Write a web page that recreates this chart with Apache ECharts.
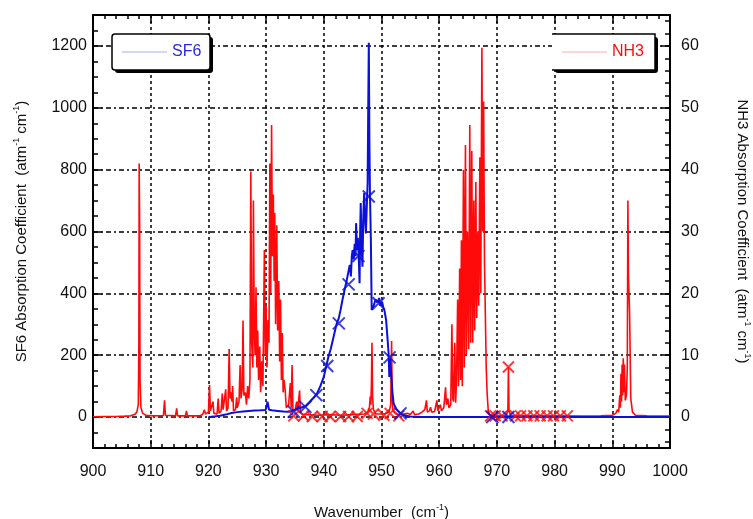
<!DOCTYPE html>
<html>
<head>
<meta charset="utf-8">
<script src="https://cdn.jsdelivr.net/npm/echarts@6/dist/echarts.min.js"></script>
<style>
  html, body { margin: 0; padding: 0; background: #fff; }
  #chart { width: 753px; height: 519px; }
</style>
</head>
<body>
<div id="chart"></div>
<script>
// Wavenumber axis (cm^-1)
const wnMin = 900, wnMax = 1000;
const wnTicks = [900, 910, 920, 930, 940, 950, 960, 970, 980, 990, 1000];

// Left axis: SF6 absorption coefficient
const sf6Ticks = [0, 200, 400, 600, 800, 1000, 1200];
// Right axis: NH3 absorption coefficient
const nh3Ticks = [0, 10, 20, 30, 40, 50, 60];

// NH3 high-resolution spectrum (wavenumber, coefficient)
const nh3Wn = [
  900.0, 902.0, 904.0, 905.5, 906.5, 907.2, 907.6, 907.85, 907.95, 908.0, 908.08, 908.15, 908.3, 908.6, 909.2,
  910.5, 912.2, 912.4, 912.55, 914.3, 914.5, 914.65, 916.0, 916.2, 916.35, 918.5, 919.0, 919.3, 919.5,
  920.0, 920.2, 920.35, 920.6, 920.8, 920.95, 921.5, 921.7, 921.85, 922.2, 922.4, 922.55, 922.8, 923.0, 923.15,
  923.4, 923.6, 923.75, 923.9, 924.1, 924.2, 924.35, 924.7, 924.9, 925.0, 925.3, 925.5, 925.65, 925.85, 926.0,
  926.15, 926.4, 926.6, 926.8, 927.0, 927.2, 927.35, 927.5, 927.7, 927.8, 927.95, 928.1, 928.25, 928.4, 928.55,
  928.7, 928.9, 929.05, 929.25, 929.45, 929.7, 929.85, 930.0, 930.15, 930.35, 930.5, 930.65, 930.8, 930.95,
  931.1, 931.25, 931.4, 931.5, 931.65, 931.85, 932.0, 932.2, 932.35, 932.5, 932.65, 932.8, 932.95, 933.1, 933.3,
  933.5, 933.9, 934.2, 934.35, 934.5, 934.65, 935.0, 935.3, 935.45, 935.8, 935.95, 936.3, 937.0, 939.0, 941.0,
  943.0, 945.0, 947.0, 947.6, 947.9, 948.05, 948.15, 948.25, 948.35, 948.45, 948.6, 949.0, 950.5, 951.3, 951.6,
  951.75, 951.85, 952.0, 952.5, 953.5, 954.5, 955.0, 955.5, 955.7, 956.5, 957.0, 957.5, 957.8, 957.95, 958.3,
  958.5, 958.7, 959.2, 959.6, 959.75, 960.0, 960.2, 960.4, 960.8, 961.1, 961.25, 961.5, 961.7, 962.0, 962.2,
  962.35, 962.5, 962.7, 962.85, 963.0, 963.2, 963.35, 963.55, 963.7, 963.85, 964.0, 964.2, 964.35, 964.55, 964.7,
  964.9, 965.1, 965.3, 965.45, 965.65, 965.8, 966.0, 966.15, 966.35, 966.5, 966.7, 966.85, 967.05, 967.2, 967.4,
  967.55, 967.7, 967.85, 968.0, 968.15, 968.3, 968.5, 968.8, 971.6, 971.9, 972.0, 972.1, 972.4, 980.0, 985.0,
  988.0, 990.0, 990.6, 990.9, 991.1, 991.3, 991.4, 991.5, 991.6, 991.7, 991.8, 991.9, 992.0, 992.1, 992.25,
  992.45, 992.6, 992.7, 992.8, 992.9, 993.0, 993.1, 993.2, 993.5, 994.0, 996.0, 1000.0
];
const nh3Abs = [
  0.05, 0.1, 0.1, 0.15, 0.2, 0.4, 0.8, 2.0, 12, 41, 32, 6, 1.6, 0.6, 0.3,
  0.2, 0.25, 2.7, 0.3, 0.2, 1.4, 0.2, 0.2, 1.0, 0.2, 0.2, 0.4, 1.2, 0.5,
  0.8, 5.2, 1.0, 0.8, 2.5, 0.6, 0.5, 3.0, 0.6, 1.0, 3.8, 1.2, 1.5, 4.5, 1.0,
  1.5, 11.0, 3.0, 4.0, 2.5, 5.0, 1.0, 1.2, 3.2, 1.5, 2.5, 8.4, 3.0, 4.5, 15.6,
  3.5, 4.0, 2.0, 5.0, 3.0, 6.0, 39.7, 12, 8, 35, 14, 10, 21, 8, 14,
  6, 11.4, 4, 9, 5, 27, 10, 18, 8, 15.7, 12, 41, 20, 47.2,
  26, 36, 22, 33, 15, 31, 14, 22, 9, 19, 6, 13.6, 4, 6, 4.4,
  1.5, 2.0, 5.5, 1.5, 8.4, 1.2, 1.0, 2.5, 1.0, 4.3, 0.8, 0.5, 0.4, 0.3, 0.4,
  0.3, 0.4, 0.5, 0.8, 1.5, 3.3, 2.0, 5, 12, 3.3, 1.2, 0.5, 0.5, 0.8, 2.0,
  12.3, 3.0, 1.0, 0.5, 0.4, 0.6, 0.4, 1.0, 0.4, 0.5, 0.8, 1.2, 2.7, 0.8, 1.0,
  1.6, 0.8, 0.9, 2.7, 1.0, 1.2, 2.0, 1.0, 1.5, 4.8, 2.0, 3.0, 1.5, 2.0, 15,
  3.0, 2.5, 12, 2.3, 6, 19, 5, 24, 6, 28.6, 5, 40, 8, 44, 10,
  30, 11, 47.2, 12, 43, 12, 35, 14, 38, 16, 30, 18, 42, 20, 59.7,
  30, 51, 25, 25, 8, 4, 1, 0.3, 0.2, 1.0, 8.1, 1.0, 0.2, 0.2, 0.15,
  0.2, 0.3, 0.6, 1.2, 0.8, 3.5, 1.5, 7.0, 2.5, 8.5, 3.5, 9.5, 4, 8.5, 2.7,
  3.5, 8, 35, 22.7, 22.7, 16.8, 16.8, 3, 0.8, 0.3, 0.2, 0.15
];

// SF6 band (wavenumber, coefficient)
const sf6Wn = [
  920.0, 921.0, 922.0, 923.0, 924.0, 925.0, 926.0, 927.0, 928.0, 929.0, 929.9, 930.1, 930.25, 930.4, 930.5,
  931.0, 932.0, 933.0, 933.8, 934.5, 935.2, 936.0, 936.8, 937.5, 938.2, 938.8, 939.4, 940.0, 940.5, 940.8,
  941.2, 941.7, 942.2, 942.6, 942.9, 943.3, 943.6, 944.0, 944.5, 944.7, 944.85, 945.0, 945.2, 945.35, 945.5,
  945.6, 945.75, 945.9, 946.05, 946.2, 946.3, 946.4, 946.55, 946.7, 946.85, 947.0, 947.15, 947.3, 947.45, 947.6,
  947.7, 947.8, 947.9, 948.0, 948.15, 948.3, 948.5, 948.6, 948.8, 949.0, 949.3, 949.6, 949.8, 950.1, 950.3,
  950.5, 950.8, 951.1, 951.25, 951.35, 951.45, 951.6, 951.9, 952.1, 952.6, 953.3, 954.0, 955.0, 956.0, 1000.0
];
const sf6Abs = [
  0, 2, 4, 8, 13, 16, 18, 20, 21, 22, 23, 35, 50, 45, 24,
  22, 20, 18, 17, 20, 25, 30, 35, 48, 62, 75, 100, 130, 170, 195,
  220, 260, 300, 320, 346, 385, 411, 445, 492, 455, 520, 540, 510, 560, 520,
  627, 540, 580, 520, 433, 600, 692, 560, 486, 650, 724, 640, 594, 680, 760,
  1000, 1210, 900, 720, 583, 346, 340, 357, 370, 380, 370, 385, 360, 373, 355,
  346, 314, 240, 200, 130, 190, 160, 80, 44, 25, 12, 5, 2, 0, 0
];

// Coarse-resolution points marked with crosses
const sf6PtWn  = [934.8, 936.8, 938.7, 940.6, 942.6, 944.3, 946.0, 947.8, 949.5, 951.4, 953.3, 969.2, 972.0];
const sf6PtAbs = [17, 33, 71, 165, 303, 429, 521, 713, 368, 193, 12, 0, 0];
const nh3PtWn  = [934.8, 936.5, 938.0, 939.7, 941.1, 942.9, 944.3, 945.8, 947.5, 948.6, 950.4, 951.5, 953.0,
                  968.9, 969.7, 970.9, 972.0, 973.2, 974.1, 975.2, 976.4, 977.5, 978.7, 979.8, 981.0, 982.2];
const nh3PtAbs = [0.2, 0.2, 0.1, 0.1, 0.1, 0.1, 0.1, 0.1, 0.6, 0.5, 0.3, 0.6, 0.2,
                  0.2, 0.2, 0.2, 8.1, 0.2, 0.2, 0.2, 0.2, 0.2, 0.2, 0.2, 0.2, 0.2];

const pairs = (xs, ys) => xs.map((x, i) => [x, ys[i]]);
const minorBetween = (majors, step, lo, hi) => {
  const out = [];
  for (let v = lo; v <= hi + 1e-9; v += step) {
    const r = Math.round(v * 1000) / 1000;
    if (!majors.includes(r)) out.push(r);
  }
  return out;
};
const plain = (v) => String(v);

const FONT = 'Liberation Sans, Arial, Helvetica, sans-serif';
const INK = '#111';
const BLUE = '#0c10d8';
const RED = '#ff0a0a';
const CROSS = 'path://M0,0 L10,10 M10,0 L0,10';

const nameRich = {
  s: { fontSize: 9, verticalAlign: 'top', fontFamily: FONT, color: INK }
};

const chart = echarts.init(document.getElementById('chart'), null, { renderer: 'canvas' });

chart.setOption({
  animation: false,
  backgroundColor: '#fff',
  textStyle: { fontFamily: FONT },
  grid: { left: 93, right: 83, top: 15, bottom: 71, containLabel: false, outerBoundsMode: 'none' },
  xAxis: [
    {
      type: 'value', position: 'bottom', min: wnMin, max: wnMax, interval: 10,
      name: 'Wavenumber  (cm{s|-1})', nameLocation: 'middle', nameGap: 55,
      nameTextStyle: { fontSize: 15, color: INK, fontFamily: FONT, lineHeight: 20, rich: nameRich },
      axisLine: { show: true, onZero: false, lineStyle: { color: '#000', width: 2 } },
      axisTick: { show: true, inside: true, length: 8, lineStyle: { color: '#000', width: 1.5 } },
      minorTick: { show: true, splitNumber: 5, length: 4, lineStyle: { color: '#000', width: 1.5 } },
      axisLabel: { show: true, margin: 16, fontSize: 16, color: INK, fontFamily: FONT, formatter: plain },
      splitLine: { show: true, lineStyle: { color: '#000', width: 1.5, type: [3, 3] } }
    },
    {
      type: 'value', position: 'top', min: wnMin, max: wnMax, interval: 10,
      axisLine: { show: true, onZero: false, lineStyle: { color: '#000', width: 2 } },
      axisTick: { show: true, inside: true, length: 8, lineStyle: { color: '#000', width: 1.5 } },
      minorTick: { show: true, splitNumber: 5, length: 4, lineStyle: { color: '#000', width: 1.5 } },
      axisLabel: { show: false },
      splitLine: { show: false }
    }
  ],
  yAxis: [
    {
      type: 'value', position: 'left', min: -100, max: 1300,
      name: 'SF6 Absorption Coefficient  (atm{s|-1} cm{s|-1})',
      nameLocation: 'middle', nameGap: 61, nameRotate: 90,
      nameTextStyle: { fontSize: 15, color: INK, fontFamily: FONT, lineHeight: 20, rich: nameRich },
      axisLine: { show: true, onZero: false, lineStyle: { color: '#000', width: 2 } },
      axisTick: { show: true, inside: true, length: 9, customValues: sf6Ticks, lineStyle: { color: '#000', width: 1.5 } },
      axisLabel: { show: true, margin: 6, fontSize: 16, color: INK, fontFamily: FONT, customValues: sf6Ticks, formatter: plain },
      splitLine: { show: true, lineStyle: { color: '#000', width: 1.5, type: [5, 3, 2, 3] } }
    },
    {
      type: 'value', position: 'right', min: -5, max: 65,
      name: 'NH3 Absorption Coefficient  (atm{s|-1} cm{s|-1})',
      nameLocation: 'middle', nameGap: 62, nameRotate: -90,
      nameTextStyle: { fontSize: 15, color: INK, fontFamily: FONT, lineHeight: 20, rich: nameRich },
      axisLine: { show: true, onZero: false, lineStyle: { color: '#000', width: 2 } },
      axisTick: { show: true, inside: true, length: 9, customValues: nh3Ticks, lineStyle: { color: '#000', width: 1.5 } },
      axisLabel: { show: true, margin: 11, fontSize: 16, color: INK, fontFamily: FONT, customValues: nh3Ticks, formatter: plain },
      splitLine: { show: false }
    },
    {
      type: 'value', position: 'left', min: -100, max: 1300,
      axisLine: { show: false },
      axisTick: { show: true, inside: true, length: 5, customValues: minorBetween(sf6Ticks, 50, -50, 1250), lineStyle: { color: '#000', width: 1.5 } },
      axisLabel: { show: false },
      splitLine: { show: false }
    },
    {
      type: 'value', position: 'right', min: -5, max: 65,
      axisLine: { show: false },
      axisTick: { show: true, inside: true, length: 5, customValues: minorBetween(nh3Ticks, 2, -4, 64), lineStyle: { color: '#000', width: 1.5 } },
      axisLabel: { show: false },
      splitLine: { show: false }
    }
  ],
  legend: [
    {
      data: [{ name: 'SF6', icon: 'rect', itemStyle: { color: '#a9abee' } }],
      left: 122, top: 44, padding: 0, itemWidth: 45, itemHeight: 1, itemGap: 0,
      selectedMode: false, z: 30,
      textStyle: { color: '#2a2ae0', fontSize: 16, fontFamily: FONT }
    },
    {
      data: [{ name: 'NH3', icon: 'rect', itemStyle: { color: '#f7b0b0' } }],
      left: 562, top: 44, padding: 0, itemWidth: 45, itemHeight: 1, itemGap: 0,
      selectedMode: false, z: 30,
      textStyle: { color: RED, fontSize: 16, fontFamily: FONT }
    }
  ],
  graphic: [
    { type: 'rect', z: 20, shape: { x: 115, y: 37, width: 98, height: 36, r: 3 }, style: { fill: '#000' } },
    { type: 'rect', z: 21, shape: { x: 112, y: 34, width: 98, height: 36, r: 3 }, style: { fill: '#fff', stroke: '#000', lineWidth: 1.5 } },
    { type: 'rect', z: 20, shape: { x: 555, y: 37, width: 103, height: 36, r: 3 }, style: { fill: '#000' } },
    { type: 'rect', z: 21, shape: { x: 552, y: 34, width: 103, height: 36 }, style: { fill: '#fff' } },
    { type: 'polyline', z: 22, shape: { points: [[552, 34], [655, 34], [655, 70], [552, 70]] }, style: { fill: null, stroke: '#000', lineWidth: 1.5 } }
  ],
  series: [
    {
      name: 'NH3', type: 'line', xAxisIndex: 0, yAxisIndex: 1, z: 2,
      data: pairs(nh3Wn, nh3Abs), showSymbol: false, symbol: 'none',
      lineStyle: { color: RED, width: 1.6 }, itemStyle: { color: RED }
    },
    {
      name: 'SF6', type: 'line', xAxisIndex: 0, yAxisIndex: 0, z: 3,
      data: pairs(sf6Wn, sf6Abs), showSymbol: false, symbol: 'none',
      lineStyle: { color: BLUE, width: 2 }, itemStyle: { color: BLUE }
    },
    {
      name: 'NH3 coarse', type: 'scatter', xAxisIndex: 0, yAxisIndex: 1, z: 4,
      data: pairs(nh3PtWn, nh3PtAbs), symbol: CROSS, symbolSize: 11,
      itemStyle: { color: 'none', borderColor: RED, borderWidth: 2 }
    },
    {
      name: 'SF6 coarse', type: 'scatter', xAxisIndex: 0, yAxisIndex: 0, z: 5,
      data: pairs(sf6PtWn, sf6PtAbs), symbol: CROSS, symbolSize: 12,
      itemStyle: { color: 'none', borderColor: BLUE, borderWidth: 2 }
    }
  ]
});
</script>
</body>
</html>
